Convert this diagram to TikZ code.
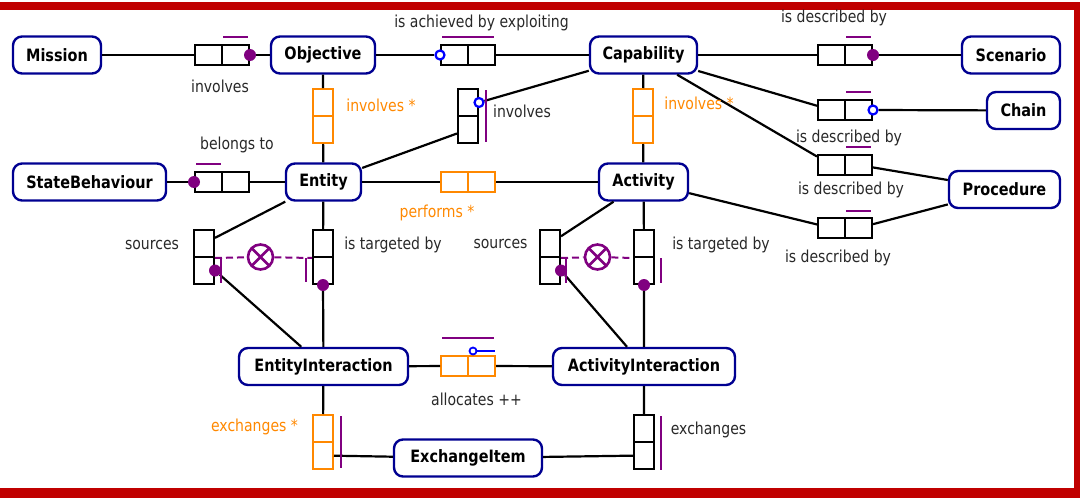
\documentclass[tikz,border=0pt]{standalone}
\usepackage{fontspec}
\setmainfont{DejaVu Sans}[FakeStretch=0.85]
\usetikzlibrary{positioning}

\definecolor{conceptblue}{RGB}{0,0,145}
\definecolor{rolepurple}{RGB}{128,0,128}
\definecolor{roleorange}{RGB}{255,136,0}
\definecolor{labelgray}{RGB}{40,40,40}
\definecolor{framered}{RGB}{192,0,0}

\tikzset{
  concept/.style={draw=conceptblue, line width=2.4pt, rounded corners=9pt, fill=white,
    inner sep=0pt, minimum height=37pt, font=\fontsize{17}{19}\selectfont\bfseries},
  cell/.style={draw=#1, line width=2pt, inner sep=0pt, fill=white},
  cell/.default=black,
  link/.style={line width=2.2pt},
  dot/.style={circle, fill=rolepurple, inner sep=0pt, minimum size=12pt},
  ring/.style={circle, draw=blue, fill=white, line width=2.2pt, inner sep=0pt, minimum size=9pt},
  bar/.style={draw=rolepurple, line width=2pt, shorten <=2pt, shorten >=2pt},
  tick/.style={draw=rolepurple, line width=2pt},
  choice/.style={draw=rolepurple, line width=2pt, dash pattern=on 7pt off 4pt},
  xing/.style={circle, draw=rolepurple, line width=2.6pt, minimum size=25pt, inner sep=0pt, fill=white,
    path picture={\draw[rolepurple, line width=2.6pt]
      (path picture bounding box.north west) -- (path picture bounding box.south east)
      (path picture bounding box.north east) -- (path picture bounding box.south west);}},
  lbl/.style={text=labelgray, font=\fontsize{16.5}{18}\selectfont},
  olbl/.style={lbl, text=roleorange},
}

% role box of two cells: #2a/#2b side by side (H) or stacked (V)
\newcommand{\HRole}[4][black]{%
  \node[cell=#1, minimum width=27pt, minimum height=20pt] (#2a) at (#3-13.5,#4) {};
  \node[cell=#1, minimum width=27pt, minimum height=20pt] (#2b) at (#3+13.5,#4) {};}
\newcommand{\VRole}[4][black]{%
  \node[cell=#1, minimum width=20pt, minimum height=27pt] (#2a) at (#3,#4-13.5) {};
  \node[cell=#1, minimum width=20pt, minimum height=27pt] (#2b) at (#3,#4+13.5) {};}

\begin{document}
\begin{tikzpicture}[x=1pt, y=-1pt]
  \useasboundingbox (0,0) rectangle (1080,498);
  % frame
  \fill[framered] (0,2) rectangle (1080,10);
  \fill[framered] (1074,2) rectangle (1080,498);
  \fill[framered] (0,488) rectangle (1080,498);

  % concepts
  \node[concept, minimum width=88pt]  (mission)     at (57,55)      {Mission};
  \node[concept, minimum width=104pt] (objective)   at (323,55)     {Objective};
  \node[concept, minimum width=107pt] (capability)  at (643.5,55)   {Capability};
  \node[concept, minimum width=98pt]  (scenario)    at (1011,55)    {Scenario};
  \node[concept, minimum width=73pt]  (chain)       at (1023.5,110.5) {Chain};
  \node[concept, minimum width=111pt] (procedure)   at (1004.5,189.5) {Procedure};
  \node[concept, minimum width=153pt] (statebeh)    at (89.5,182)   {StateBehaviour};
  \node[concept, minimum width=75pt]  (entity)      at (323.5,182)  {Entity};
  \node[concept, minimum width=89pt]  (activity)    at (643.5,182)  {Activity};
  \node[concept, minimum width=169pt] (entityint)   at (323.5,366.5) {EntityInteraction};
  \node[concept, minimum width=182pt] (activityint) at (644,366.5)  {ActivityInteraction};
  \node[concept, minimum width=148pt] (exchitem)    at (468,458)    {ExchangeItem};

  % roles
  \HRole{invM}{222}{55}
  \HRole{achv}{468}{55}
  \HRole{descS}{845}{55}
  \HRole{descC}{845}{110}
  \HRole{descP}{845}{165}
  \HRole{descQ}{845}{228}
  \VRole[roleorange]{invO}{323}{116}
  \VRole[roleorange]{invC}{643}{116}
  \VRole{invE}{468}{116}
  \HRole{belong}{222}{182}
  \HRole[roleorange]{perf}{468}{182}
  \VRole{srcE}{204}{257}
  \VRole{tgtE}{323}{257}
  \VRole{srcA}{550}{257}
  \VRole{tgtA}{644}{257}
  \HRole[roleorange]{alloc}{468}{366}
  \VRole[roleorange]{exchE}{323}{442}
  \VRole{exchA}{644}{442}

  % role ends
  \node[dot]  (invMd)   at (invMb.east) {};
  \node[ring] (achvr)   at (achva.west) {};
  \node[dot]  (descSd)  at (descSb.east) {};
  \node[ring] (descCr)  at (descCb.east) {};
  \node[ring] (invEr)   at (invEa.east) {};
  \node[dot]  (belongd) at (belonga.west) {};
  \node[dot]  (srcEd)   at (srcEb.east) {};
  \node[dot]  (tgtEd)   at (tgtEb.south) {};
  \node[dot]  (srcAd)   at (srcAb.east) {};
  \node[dot]  (tgtAd)   at (tgtAb.south) {};
  \node[ring, minimum size=7pt, line width=1.8pt] (allocr) at (473,351) {};

  % links
  \draw[link] (mission) -- (invMa) (invMd) -- (objective);
  \draw[link] (objective) -- (achvr) (achvb) -- (capability);
  \draw[link] (capability) -- (descSa) (descSd) -- (scenario);
  \draw[link] (capability) -- (descCa) (descCr) -- (chain);
  \draw[link] (capability) -- (descPa) (descPb) -- (procedure);
  \draw[link] (activity) -- (descQa) (descQb) -- (procedure);
  \draw[link] (objective) -- (invOa) (invOb) -- (entity);
  \draw[link] (capability) -- (invCa) (invCb) -- (activity);
  \draw[link] (capability) -- (invEr) (invEb) -- (entity);
  \draw[link] (statebeh) -- (belongd) (belongb) -- (entity);
  \draw[link] (entity) -- (perfa) (perfb) -- (activity);
  \draw[link] (entity) -- (srcEa) (srcEd) -- (entityint);
  \draw[link] (entity) -- (tgtEa) (tgtEd) -- (entityint);
  \draw[link] (activity) -- (srcAa) (srcAd) -- (activityint);
  \draw[link] (activity) -- (tgtAa) (tgtAd) -- (activityint);
  \draw[link] (entityint) -- (alloca) (allocb) -- (activityint);
  \draw[link] (entityint) -- (exchEa) (exchEb) -- (exchitem);
  \draw[link] (activityint) -- (exchAa) (exchAb) -- (exchitem);

  % purple bars
  \draw[bar] ([yshift=7pt]invMb.north west) -- ([yshift=7pt]invMb.north east);
  \draw[bar] ([yshift=7pt]achva.north west) -- ([yshift=7pt]achvb.north east);
  \draw[bar] ([yshift=7pt]descSb.north west) -- ([yshift=7pt]descSb.north east);
  \draw[bar] ([yshift=7pt]descCb.north west) -- ([yshift=7pt]descCb.north east);
  \draw[bar] ([yshift=7pt]descPb.north west) -- ([yshift=7pt]descPb.north east);
  \draw[bar] ([yshift=6pt]descQb.north west) -- ([yshift=6pt]descQb.north east);
  \draw[bar] ([yshift=7pt]belonga.north west) -- ([yshift=7pt]belonga.north east);
  \draw[bar] ([xshift=7pt]invEa.north east) -- ([xshift=7pt]invEb.south east);
  \draw[bar] ([yshift=17pt]alloca.north west) -- ([yshift=17pt]allocb.north east);
  \draw[blue, line width=1.8pt, shorten >=1pt] (allocr) -- (allocr -| allocb.east);
  \draw[bar] ([xshift=7pt]exchEa.north east) -- ([xshift=7pt]exchEb.south east);
  \draw[bar, shorten >=0pt] ([xshift=6pt]exchAa.north east) -- ([xshift=6pt]exchAb.south east);
  \draw[bar] ([xshift=6pt]tgtAb.north east) -- ([xshift=6pt]tgtAb.south east);

  % exclusive sources / targets
  \node[xing] (xE) at (260.5,257) {};
  \node[xing] (xA) at (597.5,257) {};
  \draw[choice] (srcEa.south east) -- (xE) -- (tgtEa.south west);
  \draw[choice] (srcAa.south east) -- (xA) -- (tgtAa.south west);
  \draw[tick] ([xshift=6pt]srcEa.south east) -- ([xshift=6pt,yshift=2pt]srcEb.south east);
  \draw[tick] ([xshift=-6pt]tgtEa.south west) -- ([xshift=-6pt,yshift=3pt]tgtEb.south west);
  \draw[tick] ([xshift=5pt]srcAa.south east) -- ([xshift=5pt,yshift=2pt]srcAb.south east);

  % labels
  \node[lbl]  (lInvM)  at (220,86)    {involves};
  \node[lbl]  (lAchv)  at (481.5,23)  {is achieved by exploiting};
  \node[lbl]  (lDescS) at (834,18)    {is described by};
  \node[lbl]  (lDescC) at (849,138)   {is described by};
  \node[lbl]  (lDescP) at (851,190)   {is described by};
  \node[lbl]  (lDescQ) at (838,258)   {is described by};
  \node[olbl] (lInvO)  at (381,105)   {involves *};
  \node[lbl]  (lInvE)  at (522,111)   {involves};
  \node[olbl] (lInvC)  at (699,103)   {involves *};
  \node[lbl]  (lBelong) at (237,145)  {belongs to};
  \node[olbl] (lPerf)  at (437,213)   {performs *};
  \node[lbl]  (lSrcE)  at (152,245)   {sources};
  \node[lbl]  (lTgtE)  at (393,245)   {is targeted by};
  \node[lbl]  (lSrcA)  at (500.5,244) {sources};
  \node[lbl]  (lTgtA)  at (721,245)   {is targeted by};
  \node[lbl]  (lAlloc) at (476.5,399) {allocates ++};
  \node[olbl] (lExchE) at (254.5,427) {exchanges *};
  \node[lbl]  (lExchA) at (708.5,430) {exchanges};
\end{tikzpicture}
\end{document}
